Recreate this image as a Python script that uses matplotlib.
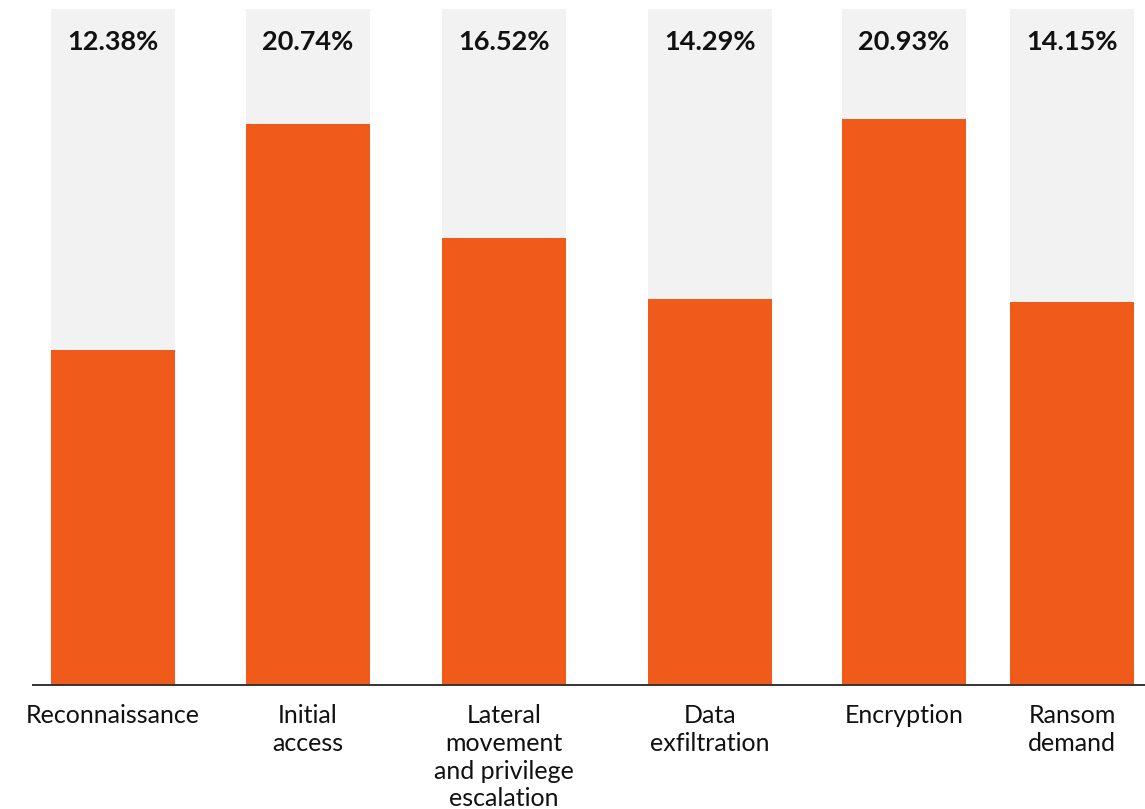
import matplotlib.pyplot as plt

stages = ['Reconnaissance', 'Initial\naccess', 'Lateral\nmovement\nand privilege\nescalation',
          'Data\nexfiltration', 'Encryption', 'Ransom\ndemand']
share = [12.38, 20.74, 16.52, 14.29, 20.93, 14.15]

# bar centres along the figure width (pixels), bars are not evenly spaced
xpos = [113, 308, 504, 710, 904, 1072]
bar_w = 124
ymax = 25

orange = '#F05A1A'
grey = '#F2F2F2'

plt.rcParams['font.family'] = ['Lato', 'DejaVu Sans']

fig = plt.figure(figsize=(11.45, 8.09), dpi=100)
ax = fig.add_axes([0, 124 / 809, 1, 676 / 809])
ax.set_xlim(0, 1145)
ax.set_ylim(0, ymax)

ax.bar(xpos, [ymax] * len(xpos), width=bar_w, color=grey, zorder=1)
ax.bar(xpos, share, width=bar_w, color=orange, zorder=2)

for x, v in zip(xpos, share):
    ax.text(x, 23.78, f'{v:.2f}%', ha='center', va='center',
            fontsize=19.5, fontweight='bold', color='#111111')

for x, s in zip(xpos, stages):
    ax.annotate(s, (x, 0), xytext=(0, -14), textcoords='offset points',
                ha='center', va='top', fontsize=18, color='#111111',
                linespacing=1.24, annotation_clip=False)

ax.hlines(0, 32, 1145, color='#333333', lw=1.4, clip_on=False, zorder=3)

ax.axis('off')
fig.savefig('out.png', dpi=100)
